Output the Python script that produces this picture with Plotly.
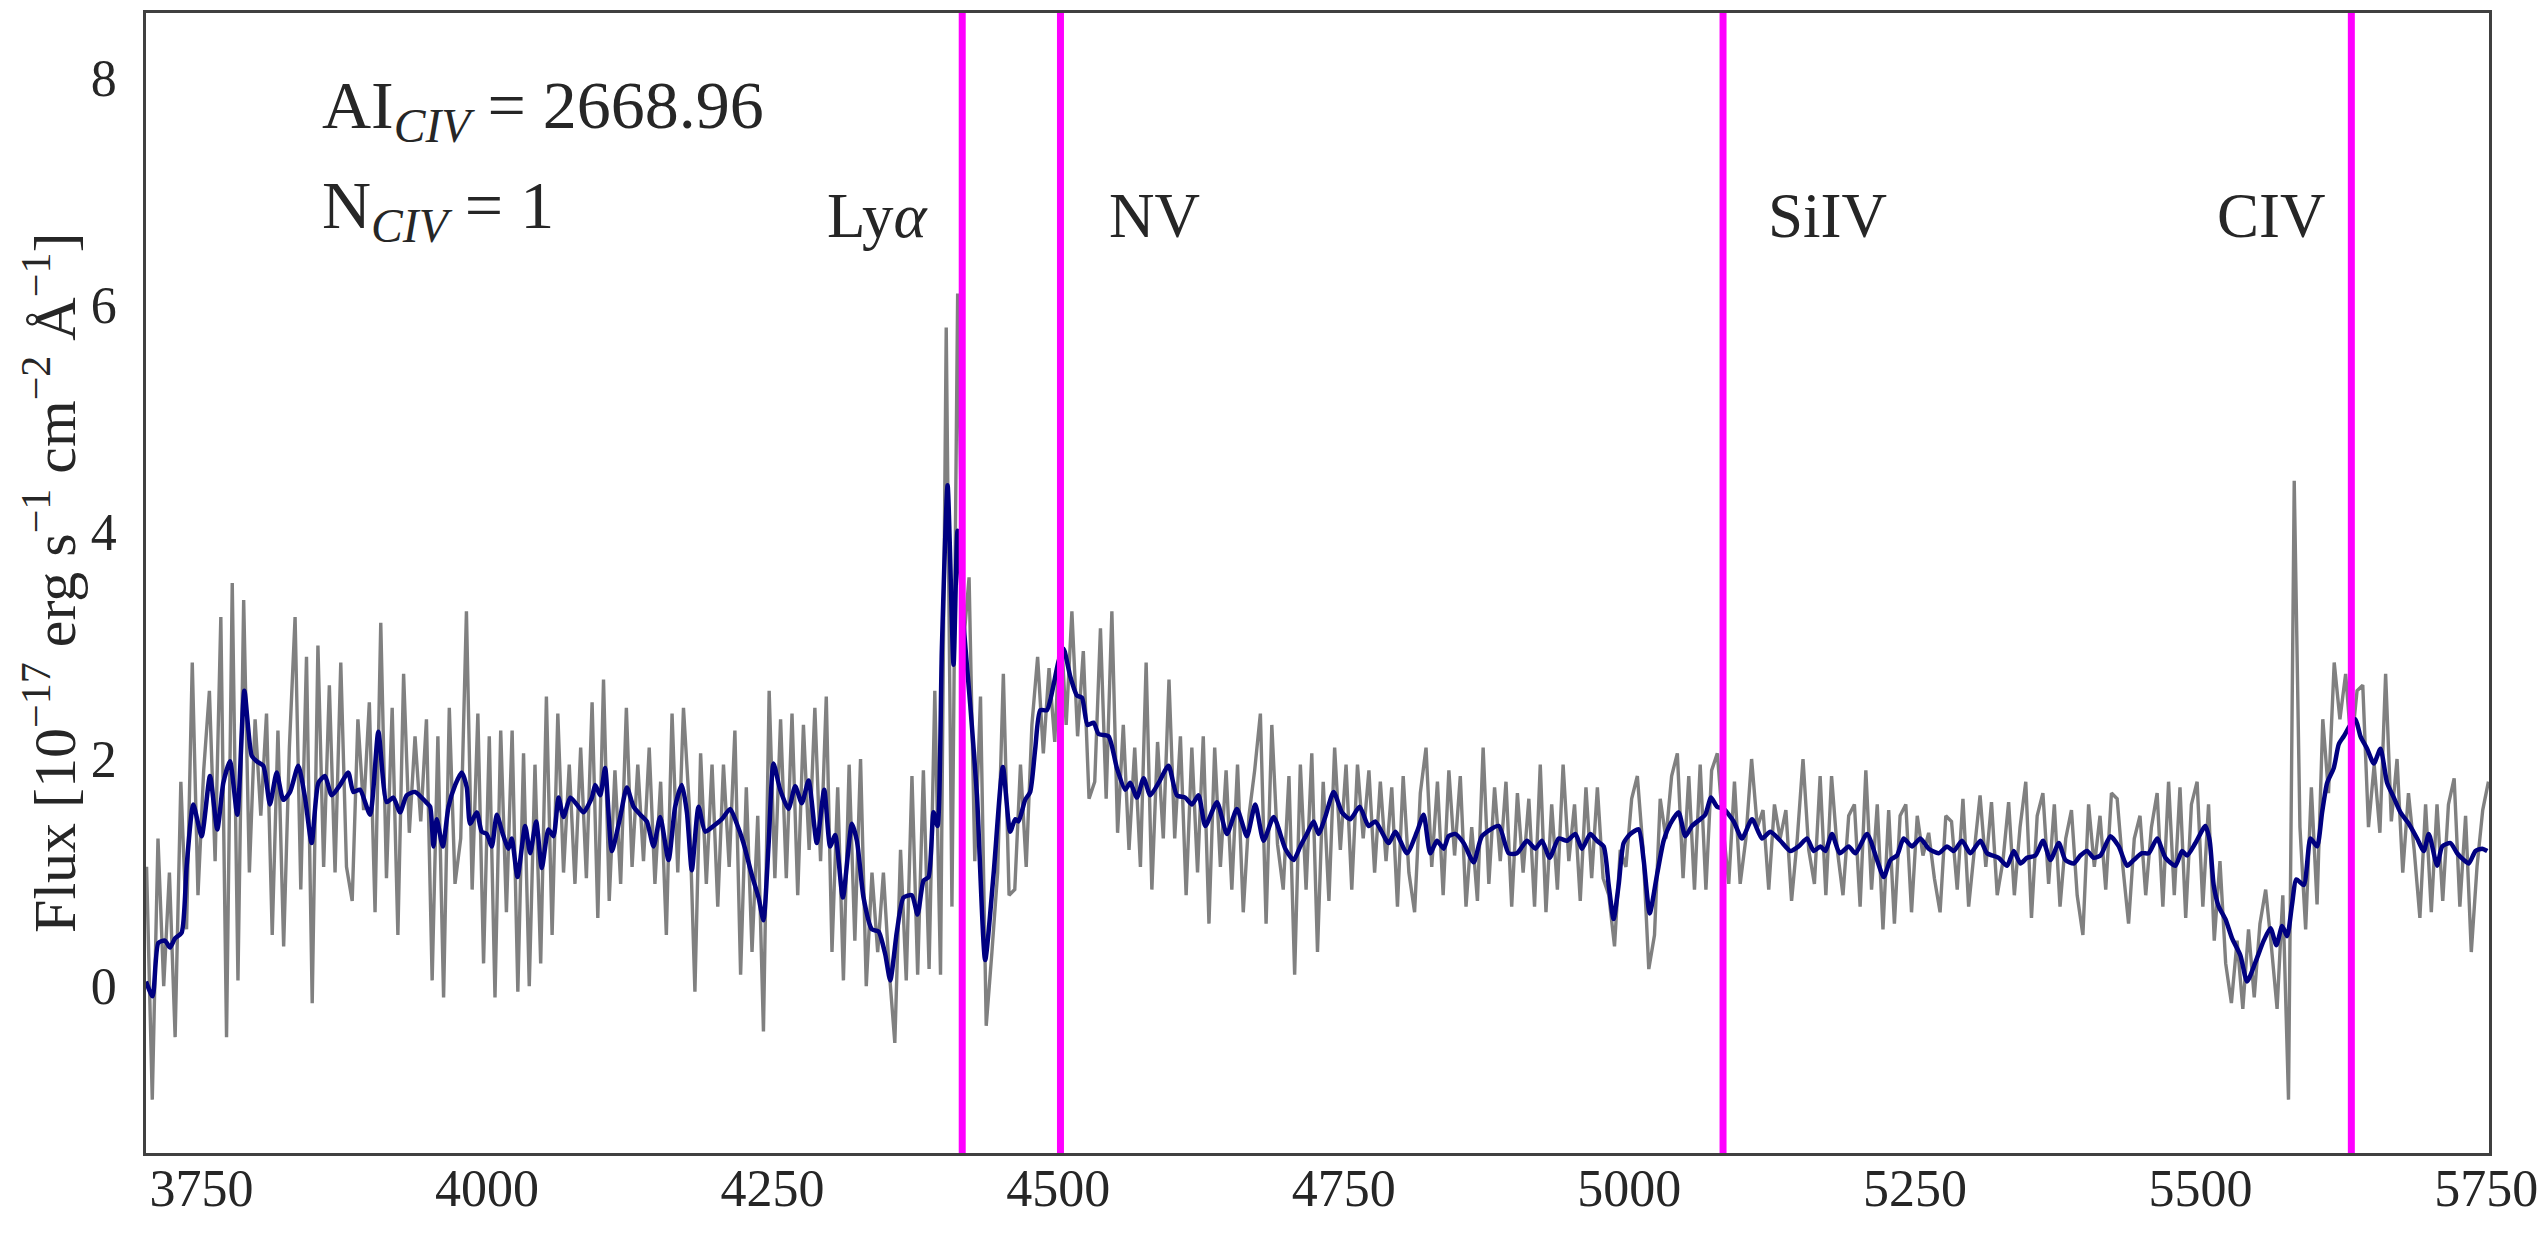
import numpy as np
import plotly.graph_objects as go

# ---------------- data ----------------
# raw (noisy) spectrum, sampled every 5 A starting at 3702 A
GRAY_START = 3702.0
GRAY_STEP = 5.0
GRAY_FLUX_1 = [1.05, -1.0, 1.3, 0.0, 1.0, -0.45, 1.8, 0.5, 2.85, 0.8,
               1.9, 2.6, 1.1, 3.25, -0.45, 3.55, 0.05, 3.4, 1.0, 2.35,
               1.5, 2.4, 0.45, 2.25, 0.35, 2.1, 3.25, 0.85, 2.9, -0.15,
               3.0, 1.05, 2.65, 1.0, 2.85, 1.05, 0.75, 2.35, 1.55, 2.5,
               0.65, 3.2, 0.95, 2.45, 0.45, 2.75, 1.35, 2.2, 1.45, 2.35,
               0.05, 2.2]
GRAY_FLUX_2 = [-0.1, 2.45, 0.9, 1.3, 3.3, 0.85, 2.4, 0.2, 2.2, -0.1,
               2.25, 0.65, 2.25, -0.05, 2.05, 0.0, 1.95, 0.2, 2.55, 0.45,
               2.4, 1.0, 1.95, 0.9, 2.1, 0.95, 2.5, 0.6, 2.7, 0.75,
               1.9, 0.9, 2.45, 1.05, 1.95, 1.1, 2.1, 0.9, 1.8, 0.45,
               2.4, 1.0, 2.45, 1.6, -0.05, 2.05, 0.9, 1.95, 0.7, 1.95,
               1.05]
GRAY_FLUX_3 = [2.25, 0.1, 1.75, 0.3, 1.5, -0.4, 2.6, 0.95, 2.35, 0.95,
               2.4, 0.8, 2.3, 1.2, 2.45, 1.1, 2.55, 0.3, 1.75, 0.05,
               1.95, 0.4, 2.0, 0.0, 1.0, 0.3, 1.0, 0.15, -0.5, 1.2,
               0.05, 1.85, 0.1, 1.9, 0.15, 2.6, 0.1, 5.8, 0.7, 6.1,
               3.0, 3.6, 1.1, 2.55, -0.35, 0.3, 1.0, 2.75, 0.8]
GRAY_FLUX_4 = [0.85, 1.95, 1.05, 2.3, 2.9, 2.05, 2.8, 2.15, 3.25, 2.3,
               3.3, 2.2, 2.95, 1.65, 1.8, 3.15, 1.65, 3.3, 1.35, 2.3,
               1.2, 2.1, 1.05, 2.85, 0.85, 2.15, 1.3, 2.7, 1.3, 2.2,
               0.8, 2.1, 1.0, 2.2, 0.55, 2.1, 1.05, 1.9, 0.85, 1.95,
               0.65, 1.5, 1.9, 2.4, 0.55, 2.3, 1.25, 0.85, 1.85, 0.1,
               1.95]
GRAY_FLUX_5 = [0.85, 2.05, 0.3, 1.8, 0.75, 2.1, 1.2, 1.95, 0.85, 1.95,
               1.3, 1.9, 1.0, 1.8, 1.1, 1.75, 0.7, 1.85, 1.0, 0.65,
               1.7, 2.1, 1.05, 1.8, 0.8, 1.9, 1.15, 1.85, 0.7, 1.4,
               0.75, 2.1, 0.9, 1.75, 1.1, 1.8, 0.7, 1.7, 1.0, 1.65,
               0.7, 1.95, 0.65, 1.6, 0.85, 1.95, 1.1, 1.6, 0.75, 1.75,
               0.95]
GRAY_FLUX_6 = [1.75, 0.95, 0.8, 0.35, 1.2, 1.05, 1.65, 1.85, 1.2, 0.15,
               0.45, 1.65, 1.3, 1.85, 2.05, 0.95, 1.85, 0.85, 1.95, 0.85,
               1.9, 2.05, 1.4, 0.9, 1.8, 0.9, 1.3, 2.0, 1.4, 1.55,
               0.85, 1.6, 1.3, 1.55, 0.75, 1.3, 2.0, 1.2, 0.9, 1.85,
               0.8, 1.85, 1.2, 0.8, 1.5, 1.6, 0.7, 1.9, 0.85, 1.6,
               0.5]
GRAY_FLUX_7 = [1.55, 0.55, 1.5, 1.6, 0.65, 1.5, 1.15, 1.35, 0.95, 0.65,
               1.5, 1.45, 0.85, 1.65, 0.7, 1.2, 1.68, 1.05, 1.62, 0.8,
               1.1, 1.62, 0.8, 1.4, 1.8, 0.6, 1.5, 1.7, 0.9, 1.6,
               0.7, 1.3, 1.55, 0.8, 0.45, 1.6, 1.05, 1.5, 0.85, 1.7,
               1.65, 1.05, 0.55, 1.3, 1.5, 0.8, 1.4, 1.7, 0.7, 1.8,
               0.8]
GRAY_FLUX_8 = [1.75, 0.6, 1.6, 1.8, 0.7, 1.6, 0.4, 1.1, 0.2, -0.15,
               0.4, -0.2, 0.5, -0.1, 0.55, 0.85, 0.35, -0.2, 0.8, -1.0,
               4.45, 1.4, 0.5, 1.75, 0.72, 2.35, 1.7, 2.85, 2.35, 2.75,
               2.1, 2.6, 2.65, 1.4, 1.95, 1.35, 2.75, 1.45, 2.0, 1.0,
               1.7, 1.2, 0.6, 1.6, 0.65, 1.6, 0.75, 1.6, 1.83, 0.7,
               1.5, 0.3, 1.05, 1.55, 1.8]

# smoothed spectrum
SMOOTH_WAVE = [
    3701.5, 3707.3, 3712.3, 3718.1, 3722.5, 3726.9, 3732.7, 3737.1, 3742.9, 3750.2,
    3757.5, 3763.9, 3769.2, 3775.0, 3781.4, 3787.6, 3794.0, 3798.4, 3804.2, 3810.0,
    3815.9, 3821.7, 3827.6, 3834.8, 3840.7, 3846.5, 3852.4, 3858.2, 3864.0, 3871.3,
    3878.6, 3883.0, 3888.8, 3897.6, 3904.9, 3912.2, 3918.0, 3923.9, 3929.7, 3937.0,
    3946.6,
    3950.2, 3953.1, 3956.0, 3961.3, 3966.3, 3972.1, 3977.9, 3982.3, 3985.2, 3991.1,
    3995.4, 3999.8, 4004.2, 4008.6, 4013.8, 4018.8, 4021.7, 4026.7, 4033.4, 4037.8,
    4043.0, 4048.0, 4053.8, 4058.2, 4062.6, 4067.0, 4072.8, 4078.6, 4084.5, 4091.8,
    4094.7, 4099.1, 4103.4, 4109.3, 4116.6, 4122.4, 4128.3, 4134.1, 4139.9, 4145.8,
    4151.6, 4158.9, 4164.7, 4170.6, 4175.0, 4179.3, 4185.2, 4191.0, 4198.3, 4205.6,
    4212.9, 4218.7, 4224.5, 4231.8, 4237.7, 4242.0, 4246.4, 4250.8, 4256.6, 4263.9,
    4269.8, 4275.6, 4281.5, 4288.7, 4295.2, 4300.4, 4304.8, 4311.5, 4319.4, 4323.8,
    4329.6, 4336.9, 4342.8, 4348.6, 4353.0, 4358.8, 4364.6, 4371.9, 4376.9, 4382.2,
    4386.5, 4390.9, 4394.4, 4398.2, 4403.2, 4408.4, 4411.9, 4417.2, 4423.0, 4428.9,
    4436.1, 4443.4, 4451.6, 4458.0,
    4462.4, 4465.3, 4471.1, 4475.5, 4479.9, 4484.3, 4490.1, 4495.9, 4500.3, 4504.7,
    4510.5, 4516.4, 4520.8, 4525.7, 4531.0, 4535.4, 4544.1, 4551.4, 4558.7, 4563.1,
    4568.9, 4574.8, 4580.6, 4587.9, 4596.6, 4603.9, 4611.2, 4617.1, 4622.9, 4628.8,
    4639.0, 4647.7, 4656.5, 4665.2, 4672.5, 4679.8, 4688.6, 4698.8, 4706.1,
    4711.9, 4717.7, 4723.6, 4727.9, 4733.8, 4741.1, 4748.4, 4755.7, 4763.9, 4771.7,
    4777.6, 4789.3, 4795.1, 4805.3, 4814.1, 4819.9, 4825.7, 4831.6, 4837.4, 4841.8,
    4847.6, 4854.9, 4863.7, 4871.0, 4885.6, 4894.3, 4901.6, 4910.4, 4917.7, 4923.5,
    4930.2, 4938.1, 4945.4, 4952.7, 4958.5,
    4965.8, 4971.6, 4977.5, 4981.9, 4986.2, 4990.6, 4995.0, 5000.8, 5008.1, 5012.5,
    5017.8, 5024.2, 5030.0, 5035.9, 5043.1, 5049.0, 5054.8, 5062.1, 5066.5, 5071.5,
    5076.7, 5082.6, 5091.3, 5098.6, 5107.4, 5116.1, 5123.4, 5132.2, 5140.9, 5148.2,
    5155.5, 5161.4, 5167.2, 5171.6, 5177.4, 5184.1, 5192.0, 5197.9, 5208.1, 5216.8,
    5222.7, 5228.5, 5234.3, 5240.1, 5247.4, 5254.7, 5262.0, 5270.8, 5278.1, 5284.0,
    5291.2, 5298.5, 5307.3, 5313.1, 5323.3, 5330.6, 5336.5, 5342.3, 5348.1, 5355.4,
    5362.1, 5368.6, 5375.9, 5381.7, 5389.0, 5394.8, 5400.7, 5406.4, 5412.4, 5421.1,
    5428.4, 5435.7, 5441.5, 5448.8, 5454.6, 5462.0, 5469.3,
    5478.0, 5483.8, 5488.2, 5495.5, 5504.2, 5508.0, 5511.5, 5515.9, 5521.8, 5527.6,
    5534.9, 5540.7, 5548.0, 5555.3, 5561.2, 5566.4, 5571.4, 5575.8, 5580.1, 5583.9,
    5590.4, 5596.2, 5602.0, 5606.4, 5610.8, 5616.6, 5621.0, 5625.4, 5631.2, 5635.6,
    5640.0, 5645.8, 5651.7, 5657.5, 5663.3, 5669.2, 5675.0, 5682.3, 5689.6, 5695.4,
    5699.8, 5707.1, 5711.5, 5718.8, 5724.6, 5730.5, 5734.8, 5740.7, 5746.5, 5751.0,
]
SMOOTH_FLUX = [
    0.04, -0.09, 0.38, 0.40, 0.34, 0.42, 0.47, 1.06, 1.60, 1.32,
    1.85, 1.38, 1.79, 1.98, 1.51, 2.60, 2.03, 1.98, 1.94, 1.60,
    1.88, 1.64, 1.71, 1.94, 1.66, 1.26, 1.79, 1.85, 1.68, 1.77,
    1.88, 1.71, 1.73, 1.51, 2.24, 1.62, 1.66, 1.53, 1.68, 1.71,
    1.62,
    1.58, 1.23, 1.47, 1.23, 1.58, 1.77, 1.88, 1.75, 1.43, 1.53,
    1.36, 1.34, 1.23, 1.51, 1.34, 1.21, 1.30, 0.96, 1.41, 1.17,
    1.45, 1.04, 1.38, 1.32, 1.66, 1.49, 1.66, 1.60, 1.53, 1.66,
    1.77, 1.68, 1.92, 1.19, 1.49, 1.75, 1.58, 1.51, 1.45, 1.23,
    1.49, 1.11, 1.58, 1.77, 1.53, 1.02, 1.58, 1.36, 1.41, 1.47,
    1.56, 1.43, 1.26, 0.98, 0.78, 0.58, 1.23, 1.96, 1.73, 1.56,
    1.76, 1.61, 1.81, 1.26, 1.73, 1.23, 1.33, 0.78, 1.43, 1.28,
    0.78, 0.50, 0.48, 0.28, 0.05, 0.48, 0.78, 0.80, 0.63, 0.93,
    0.96, 1.53, 1.41, 2.98, 4.41, 2.83, 4.01, 3.18, 2.48, 1.68,
    0.23, 0.98, 1.93, 1.36,
    1.47, 1.45, 1.64, 1.71, 2.09, 2.43, 2.43, 2.65, 2.86, 2.97,
    2.73, 2.56, 2.54, 2.30, 2.32, 2.22, 2.20, 1.92, 1.73, 1.79,
    1.66, 1.83, 1.68, 1.79, 1.94, 1.68, 1.66, 1.60, 1.68, 1.41,
    1.62, 1.34, 1.56, 1.32, 1.60, 1.28, 1.49, 1.21, 1.11,
    1.23, 1.34, 1.45, 1.34, 1.49, 1.71, 1.53, 1.47, 1.58, 1.41,
    1.45, 1.26, 1.36, 1.17, 1.36, 1.51, 1.17, 1.28, 1.21, 1.32,
    1.34, 1.26, 1.09, 1.32, 1.41, 1.17, 1.17, 1.28, 1.21, 1.28,
    1.13, 1.30, 1.28, 1.34, 1.21,
    1.34, 1.28, 1.23, 0.89, 0.59, 0.89, 1.26, 1.34, 1.38, 1.11,
    0.64, 0.98, 1.28, 1.43, 1.53, 1.32, 1.41, 1.47, 1.51, 1.66,
    1.58, 1.56, 1.45, 1.30, 1.47, 1.30, 1.36, 1.28, 1.19, 1.23,
    1.30, 1.19, 1.23, 1.19, 1.34, 1.17, 1.23, 1.17, 1.34, 1.11,
    0.96, 1.11, 1.15, 1.30, 1.23, 1.30, 1.21, 1.17, 1.23, 1.19,
    1.28, 1.17, 1.28, 1.17, 1.13, 1.06, 1.19, 1.08, 1.13, 1.15,
    1.28, 1.11, 1.26, 1.11, 1.08, 1.15, 1.19, 1.13, 1.15, 1.32,
    1.23, 1.06, 1.11, 1.17, 1.17, 1.30, 1.13,
    1.06, 1.19, 1.15, 1.26, 1.41, 1.28, 0.89, 0.70, 0.59, 0.42,
    0.27, 0.04, 0.21, 0.40, 0.51, 0.36, 0.53, 0.44, 0.72, 0.94,
    0.89, 1.30, 1.23, 1.53, 1.79, 1.92, 2.13, 2.20, 2.30, 2.35,
    2.20, 2.09, 1.96, 2.09, 1.79, 1.66, 1.53, 1.43, 1.30, 1.19,
    1.34, 1.06, 1.23, 1.26, 1.17, 1.11, 1.08, 1.19, 1.21, 1.19,
]

LINE_WAVES = [4416.0, 4502.0, 5082.0, 5632.0]
LINE_NAMES = ["Ly<i>α</i>", "NV", "SiIV", "CIV"]
LINE_LABEL_X = [4296.0, 4543.0, 5120.0, 5513.0]

AI_TEXT = "AI<sub><i>CIV</i></sub> = 2668.96"
N_TEXT = "N<sub><i>CIV</i></sub> = 1"
Y_TITLE = "Flux [10<sup>−17</sup> erg s<sup>−1</sup> cm<sup>−2</sup> Å<sup>−1</sup>]"

X_TICKS = [3750, 4000, 4250, 4500, 4750, 5000, 5250, 5500, 5750]
Y_TICKS = [0, 2, 4, 6, 8]
X_RANGE = [3701.5, 5752.5]
Y_RANGE = [-1.47, 8.57]

# ---------------- figure ----------------
gray_flux = (GRAY_FLUX_1 + GRAY_FLUX_2 + GRAY_FLUX_3 + GRAY_FLUX_4 +
             GRAY_FLUX_5 + GRAY_FLUX_6 + GRAY_FLUX_7 + GRAY_FLUX_8)
gray_wave = GRAY_START + GRAY_STEP * np.arange(len(gray_flux))

FONT = "Liberation Serif"
TEXT_COLOR = "#262626"
fig = go.Figure()
fig.add_trace(go.Scatter(x=gray_wave, y=gray_flux, mode="lines",
                         line=dict(color="#808080", width=3.4),
                         showlegend=False, hoverinfo="skip"))
fig.add_trace(go.Scatter(x=SMOOTH_WAVE, y=SMOOTH_FLUX, mode="lines",
                         line=dict(color="#000080", width=4.5, shape="spline", smoothing=0.6),
                         showlegend=False, hoverinfo="skip"))

for w in LINE_WAVES:
    fig.add_shape(type="line", x0=w, x1=w, y0=0, y1=1, xref="x", yref="paper",
                  line=dict(color="#FF00FF", width=7), layer="above")

annotations = []
for name, lx in zip(LINE_NAMES, LINE_LABEL_X):
    annotations.append(dict(x=lx, y=6.78, xref="x", yref="y", text=name,
                            showarrow=False, xanchor="left", yanchor="middle",
                            font=dict(family=FONT, size=63, color=TEXT_COLOR)))
annotations.append(dict(x=3854, y=7.72, xref="x", yref="y", text=AI_TEXT,
                        showarrow=False, xanchor="left", yanchor="middle",
                        font=dict(family=FONT, size=68, color=TEXT_COLOR)))
annotations.append(dict(x=3854, y=6.84, xref="x", yref="y", text=N_TEXT,
                        showarrow=False, xanchor="left", yanchor="middle",
                        font=dict(family=FONT, size=68, color=TEXT_COLOR)))
# y-axis title placed as rotated text left of the tick labels
annotations.append(dict(x=-0.0410, y=0.5, xref="paper", yref="paper", text=Y_TITLE,
                        showarrow=False, xanchor="center", yanchor="middle",
                        textangle=-90,
                        font=dict(family=FONT, size=60, color=TEXT_COLOR)))

axis_common = dict(showgrid=False, zeroline=False, showline=True, mirror=True,
                   linecolor="#404040", linewidth=2.5,
                   tickfont=dict(family=FONT, size=52, color=TEXT_COLOR))

xaxis = dict(range=X_RANGE, tickvals=X_TICKS, ticktext=[str(t) for t in X_TICKS],
             ticks="", **axis_common)
yaxis = dict(range=Y_RANGE, tickvals=Y_TICKS, ticktext=[str(t) for t in Y_TICKS],
             ticks="outside", ticklen=16, tickcolor="rgba(0,0,0,0)",
             **axis_common)

fig.update_layout(
    width=2546, height=1233,
    margin=dict(l=146, r=57, t=13, b=80, autoexpand=False),
    paper_bgcolor="white", plot_bgcolor="white",
    xaxis=xaxis, yaxis=yaxis,
    annotations=annotations,
)
try:
    fig.update_xaxes(ticklabelstandoff=-12)
except Exception:
    pass

fig.write_html("out.html")
